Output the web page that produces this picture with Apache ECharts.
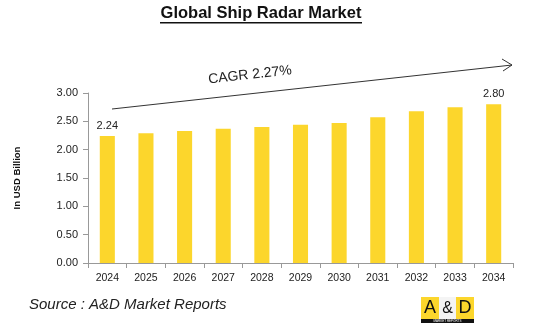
<!DOCTYPE html>
<html><head><meta charset="utf-8">
<script src="https://cdn.jsdelivr.net/npm/echarts@6/dist/echarts.min.js"></script>
<style>html,body{margin:0;padding:0;background:#fff}#c{width:550px;height:331px}</style>
</head><body><div id="c"></div>
<script>
const categories = ['2024','2025','2026','2027','2028','2029','2030','2031','2032','2033','2034'];
const values = [2.24, 2.29, 2.33, 2.37, 2.40, 2.44, 2.47, 2.57, 2.68, 2.75, 2.80];
const yTicks = {min: 0, max: 3, interval: 0.5};
const titleText = 'Global Ship Radar Market';
const cagrText = 'CAGR 2.27%';
const sourceText = 'Source : A&D Market Reports';

const chart = echarts.init(document.getElementById('c'), null, {renderer: 'canvas'});
const font = 'Liberation Sans, Arial, sans-serif';
chart.setOption({
  animation: false,
  backgroundColor: '#fff',
  grid: {left: 88, right: 37, top: 93, bottom: 68},
  xAxis: {
    type: 'category', data: categories,
    axisLine: {lineStyle: {color: '#999'}},
    axisTick: {show: true, alignWithLabel: false, length: 5, lineStyle: {color: '#999'}},
    axisLabel: {fontFamily: font, fontSize: 10.5, color: '#222', margin: 10}
  },
  yAxis: {
    type: 'value', min: yTicks.min, max: yTicks.max, interval: yTicks.interval,
    name: 'In USD Billion', nameLocation: 'middle', nameGap: 66, nameRotate: 90,
    nameTextStyle: {fontFamily: font, fontSize: 9.5, fontWeight: 'bold', color: '#111'},
    axisLine: {show: true, lineStyle: {color: '#999'}},
    axisTick: {show: true, length: 5, lineStyle: {color: '#999'}},
    splitLine: {show: false},
    axisLabel: {fontFamily: font, fontSize: 11, color: '#222', margin: 10,
      formatter: v => v.toFixed(2)}
  },
  series: [{
    type: 'bar', data: values.map((v, i) => ({
      value: v,
      label: {show: i === 0 || i === values.length - 1}
    })),
    barWidth: '39%',
    itemStyle: {color: '#FCD62C'},
    label: {position: 'top', distance: 5, fontFamily: font, fontSize: 11, color: '#222',
      formatter: p => p.value.toFixed(2)}
  }],
  graphic: [
    {type: 'text', x: 261, y: 13, style: {text: titleText, fontFamily: font, fontSize: 16.5, fontWeight: 'bold', fill: '#111', align: 'center', verticalAlign: 'middle'}},
    {type: 'rect', shape: {x: 160, y: 22, width: 202, height: 1.5}, style: {fill: '#111'}},
    {type: 'line', shape: {x1: 112, y1: 109, x2: 512, y2: 65}, style: {stroke: '#333', lineWidth: 1}},
    {type: 'polyline', shape: {points: [[502, 59], [512, 65], [503, 71]]}, style: {stroke: '#333', lineWidth: 1, fill: null}},
    {type: 'text', x: 250, y: 75, rotation: 0.11, style: {text: cagrText, fontFamily: font, fontSize: 14, fill: '#222', align: 'center', verticalAlign: 'middle'}},
    {type: 'text', x: 29, y: 305, style: {text: sourceText, fontFamily: font, fontSize: 15, fontStyle: 'italic', fill: '#222', verticalAlign: 'middle'}},
    {type: 'rect', shape: {x: 421, y: 297, width: 53, height: 22}, style: {fill: '#FCD62C'}},
    {type: 'rect', shape: {x: 439, y: 297, width: 17, height: 22}, style: {fill: '#f4f4f4'}},
    {type: 'rect', shape: {x: 421, y: 319, width: 53, height: 4}, style: {fill: '#111'}},
    {type: 'text', x: 430, y: 308.5, style: {text: 'A', fontFamily: font, fontSize: 18, fill: '#111', align: 'center', verticalAlign: 'middle'}},
    {type: 'text', x: 447.5, y: 308.5, style: {text: '&', fontFamily: font, fontSize: 16, fill: '#111', align: 'center', verticalAlign: 'middle'}},
    {type: 'text', x: 465, y: 308.5, style: {text: 'D', fontFamily: font, fontSize: 18, fill: '#111', align: 'center', verticalAlign: 'middle'}},
    {type: 'text', x: 447.5, y: 321, style: {text: 'MARKET REPORTS', fontFamily: font, fontSize: 3, fill: '#fff', align: 'center', verticalAlign: 'middle'}}
  ]
});
</script></body></html>
